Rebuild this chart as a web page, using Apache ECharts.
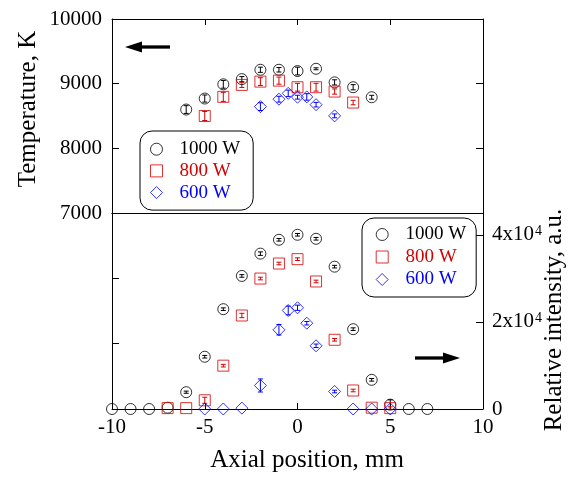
<!DOCTYPE html>
<html>
<head>
<meta charset="utf-8">
<script src="https://cdn.jsdelivr.net/npm/echarts@6/dist/echarts.min.js"></script>
<style>
  html, body { margin: 0; padding: 0; background: #fff; }
  #chart { width: 570px; height: 478px; }
</style>
</head>
<body>
<div id="chart"></div>
<script>
// Axial temperature profile (upper panel, left axis)
const posT1000 = [-6, -5, -4, -3, -2, -1, 0, 1, 2, 3, 4];
const temp1000 = [8600, 8770, 8990, 9070, 9215, 9215, 9195, 9230, 9020, 8945, 8790];
const tErr1000 = [60, 55, 60, 40, 40, 35, 60, 15, 40, 40, 30];

const posT800 = [-5, -4, -3, -2, -1, 0, 1, 2, 3];
const temp800 = [8500, 8796, 8981, 9032, 9047, 8945, 8945, 8878, 8708];
const tErr800 = [70, 70, 40, 60, 55, 60, 60, 40, 35];

const posT600 = [-2, -1, -0.5, 0, 0.5, 1, 2];
const temp600 = [8645, 8760, 8850, 8791, 8795, 8675, 8502];
const tErr600 = [60, 45, 50, 30, 50, 35, 30];

// Axial relative intensity profile (lower panel, right axis)
const posI1000 = [-10, -9, -8, -7, -6, -5, -4, -3, -2, -1, 0, 1, 2, 3, 4, 5, 6, 7];
const int1000 = [0, 0, 0, 300, 3860, 12000, 22920, 30550, 35670, 38850, 40000, 39080, 32680, 18330, 6700, 1000, 0, 0];
const iErr1000 = [0, 0, 0, 0, 250, 300, 300, 300, 400, 300, 300, 300, 300, 300, 300, 1100, 0, 0];

const posI800 = [-7, -6, -5, -4, -3, -2, -1, 0, 1, 2, 3, 4, 5];
const int800 = [200, 200, 2000, 9950, 21470, 29950, 33400, 34400, 29280, 15890, 4250, 300, 200];
const iErr800 = [0, 0, 700, 300, 500, 300, 300, 300, 300, 300, 300, 0, 300];

const posI600 = [-5, -4, -3, -2, -1, -0.5, 0, 0.5, 1, 2, 3, 4, 5];
const int600 = [0, 0, 200, 5400, 18190, 22620, 23240, 19700, 14510, 4020, 0, 0, 0];
const iErr600 = [0, 0, 0, 1500, 1200, 1000, 600, 400, 400, 300, 0, 0, 0];

const seriesNames = ['1000 W', '800 W', '600 W'];
const tempTicks = [7000, 8000, 9000, 10000];
const intensityTicks = [0, 20000, 40000];

const FONT = 'Liberation Serif, Times New Roman, serif';
const COLORS = ['#000000', '#d40000', '#0000ff'];
const SYMBOLS = ['circle', 'rect', 'diamond'];
const SIZES = [11, 11, 12];

function pairs(xs, ys) { return xs.map((x, i) => [x, ys[i]]); }
function triples(xs, ys, es) { return xs.map((x, i) => [x, ys[i], es[i]]); }

function errorBar(color) {
  return function (params, api) {
    const x = api.value(0), y = api.value(1), e = api.value(2);
    if (!e) return null;
    const a = api.coord([x, y + e]);
    const b = api.coord([x, y - e]);
    const hw = 2.5;
    const st = { stroke: color, lineWidth: 1 };
    return {
      type: 'group',
      children: [
        { type: 'line', shape: { x1: a[0], y1: a[1], x2: b[0], y2: b[1] }, style: st },
        { type: 'line', shape: { x1: a[0] - hw, y1: a[1], x2: a[0] + hw, y2: a[1] }, style: st },
        { type: 'line', shape: { x1: b[0] - hw, y1: b[1], x2: b[0] + hw, y2: b[1] }, style: st }
      ]
    };
  };
}

const panels = [
  { xi: 0, yi: 0, xs: [posT1000, posT800, posT600], ys: [temp1000, temp800, temp600], es: [tErr1000, tErr800, tErr600] },
  { xi: 2, yi: 3, xs: [posI1000, posI800, posI600], ys: [int1000, int800, int600], es: [iErr1000, iErr800, iErr600] }
];

const series = [];
panels.forEach(p => {
  for (let k = 0; k < 3; k++) {
    series.push({
      type: 'custom',
      name: seriesNames[k] + ' error',
      xAxisIndex: p.xi, yAxisIndex: p.yi,
      renderItem: errorBar(COLORS[k]),
      data: triples(p.xs[k], p.ys[k], p.es[k]),
      clip: false,
      silent: true,
      z: 3
    });
    series.push({
      type: 'scatter',
      name: seriesNames[k],
      xAxisIndex: p.xi, yAxisIndex: p.yi,
      symbol: SYMBOLS[k],
      symbolSize: SIZES[k],
      itemStyle: { color: 'transparent', borderColor: COLORS[k], borderWidth: 1 },
      data: pairs(p.xs[k], p.ys[k]),
      clip: false,
      z: 4
    });
  }
});

const axisLine = { show: true, onZero: false, lineStyle: { color: '#000', width: 1 } };
const tickIn = { show: true, inside: true, length: 7, lineStyle: { color: '#000', width: 1 } };
const labelFont = { fontFamily: FONT, fontSize: 21, color: '#000' };

function legendFor(left, top, padding, gap, textPad) {
  return {
    left: left, top: top,
    orient: 'vertical',
    padding: padding,
    itemGap: gap,
    itemWidth: 12,
    itemHeight: 12,
    borderColor: '#000',
    borderWidth: 1,
    borderRadius: 12,
    selectedMode: false,
    itemStyle: { borderWidth: 1 },
    textStyle: { fontFamily: FONT, fontSize: 19, lineHeight: 18, padding: [0, 0, 0, textPad] },
    data: seriesNames.map((n, k) => ({ name: n, icon: SYMBOLS[k], textStyle: { color: COLORS[k] } }))
  };
}

const option = {
  animation: false,
  backgroundColor: '#fff',
  grid: [
    { left: 112, right: 87, top: 19, height: 194 },
    { left: 112, right: 87, top: 213, height: 196 }
  ],
  xAxis: [
    { gridIndex: 0, type: 'value', position: 'top', min: -10, max: 10, interval: 5,
      axisLine, axisTick: { ...tickIn, length: 6 }, axisLabel: { show: false }, splitLine: { show: false } },
    { gridIndex: 0, type: 'value', position: 'bottom', min: -10, max: 10, interval: 5,
      axisLine, axisTick: { show: false }, axisLabel: { show: false }, splitLine: { show: false } },
    { gridIndex: 1, type: 'value', position: 'bottom', min: -10, max: 10, interval: 5,
      axisLine, axisTick: { ...tickIn, length: 6 }, axisLabel: { ...labelFont, margin: 8 }, splitLine: { show: false } },
    { gridIndex: 1, type: 'value', position: 'top', min: -10, max: 10, interval: 5,
      axisLine, axisTick: { show: false }, axisLabel: { show: false }, splitLine: { show: false } }
  ],
  yAxis: [
    { gridIndex: 0, type: 'value', position: 'left', min: 7000, max: 10000, interval: 1000,
      axisLine, axisTick: tickIn,
      axisLabel: { ...labelFont, margin: 10, showMinLabel: true, showMaxLabel: true,
        formatter: v => tempTicks.includes(v) ? String(v) : '' },
      splitLine: { show: false } },
    { gridIndex: 0, type: 'value', position: 'right', min: 7000, max: 10000, interval: 1000,
      axisLine, axisTick: tickIn, axisLabel: { show: false }, splitLine: { show: false } },
    { gridIndex: 1, type: 'value', position: 'left', min: 4000, max: 7000, interval: 1000,
      axisLine, axisTick: tickIn, axisLabel: { show: false }, splitLine: { show: false } },
    { gridIndex: 1, type: 'value', position: 'right', min: 0, max: 45000, interval: 20000,
      axisLine, axisTick: tickIn,
      axisLabel: {
        margin: 9, color: '#000',
        formatter: v => {
          if (!intensityTicks.includes(v)) return '';
          if (v === 0) return '{b|0}';
          return '{b|' + (v / 10000) + 'x10}{s|4}';
        },
        rich: {
          b: { fontFamily: FONT, fontSize: 21, color: '#000' },
          s: { fontFamily: FONT, fontSize: 14, color: '#000', verticalAlign: 'top', padding: [0, 0, 0, 1] }
        }
      },
      splitLine: { show: false } }
  ],
  legend: [
    legendFor(140, 131, [8.7, 13, 8, 10], 2.7, 12),
    legendFor(362, 218, [7, 10, 8, 13.7], 3.5, 12.3)
  ],
  graphic: [
    // direction arrows: temperature -> left axis, intensity -> right axis
    { type: 'line', shape: { x1: 140, y1: 47, x2: 170, y2: 47 }, style: { stroke: '#000', lineWidth: 3.3 } },
    { type: 'polygon', shape: { points: [[125, 47], [142, 41.5], [142, 52.5]] }, style: { fill: '#000' } },
    { type: 'line', shape: { x1: 415, y1: 358, x2: 445, y2: 358 }, style: { stroke: '#000', lineWidth: 3.3 } },
    { type: 'polygon', shape: { points: [[460, 358], [443, 352.5], [443, 363.5]] }, style: { fill: '#000' } },
    // axis titles
    { type: 'text', x: 28, y: 109, rotation: Math.PI / 2,
      style: { text: 'Temperature, K', fontFamily: FONT, fontSize: 25, fill: '#000',
        align: 'center', verticalAlign: 'middle', textAlign: 'center', textVerticalAlign: 'middle' } },
    { type: 'text', x: 554, y: 320, rotation: Math.PI / 2,
      style: { text: 'Relative intensity, a.u.', fontFamily: FONT, fontSize: 25, fill: '#000',
        align: 'center', verticalAlign: 'middle', textAlign: 'center', textVerticalAlign: 'middle' } },
    { type: 'text', x: 307, y: 460,
      style: { text: 'Axial position, mm', fontFamily: FONT, fontSize: 25, fill: '#000',
        align: 'center', verticalAlign: 'middle', textAlign: 'center', textVerticalAlign: 'middle' } }
  ],
  series: series
};

const chart = echarts.init(document.getElementById('chart'), null, { renderer: 'canvas' });
chart.setOption(option);
</script>
</body>
</html>
